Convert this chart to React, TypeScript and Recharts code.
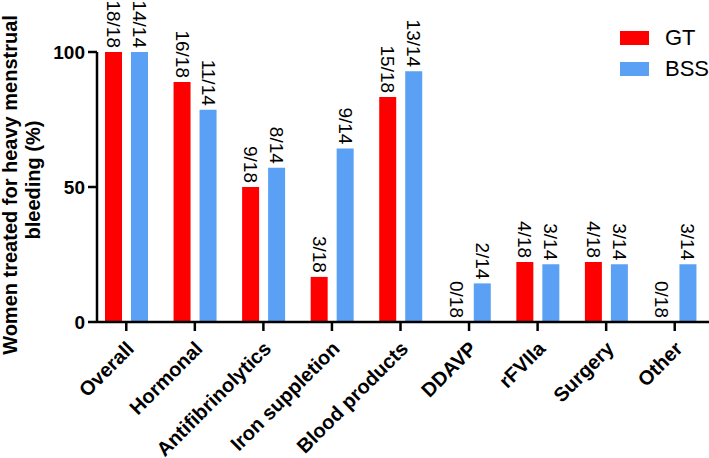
import React from 'react'
import { BarChart, Bar, XAxis, YAxis, Legend, LabelList } from 'recharts'

const categories = ['Overall', 'Hormonal', 'Antifibrinolytics', 'Iron suppletion', 'Blood products', 'DDAVP', 'rFVIIa', 'Surgery', 'Other']
const gtPercent = [100, 88.9, 50, 16.7, 83.3, 0, 22.2, 22.2, 0]
const bssPercent = [100, 78.6, 57.1, 64.3, 92.9, 14.3, 21.4, 21.4, 21.4]
const gtLabels = ['18/18', '16/18', '9/18', '3/18', '15/18', '0/18', '4/18', '4/18', '0/18']
const bssLabels = ['14/14', '11/14', '8/14', '9/14', '13/14', '2/14', '3/14', '3/14', '3/14']
const yTicks = [0, 50, 100]

const RED = '#ff0000'
const BLUE = '#5aa0f5'
const FONT = '"Liberation Sans", Arial, sans-serif'

const chartData = categories.map((name, i) => ({
  name,
  gt: gtPercent[i],
  bss: bssPercent[i],
  gtLabel: gtLabels[i],
  bssLabel: bssLabels[i],
}))

const BarLabel = (props: any) => {
  const { x, y, width, value } = props
  const cx = x + width / 2
  const ty = y - 4
  return (
    <text
      x={cx}
      y={ty}
      transform={`rotate(90, ${cx}, ${ty})`}
      textAnchor="end"
      dominantBaseline="central"
      fontSize={19}
      fontFamily={FONT}
      fill="#000"
    >
      {value}
    </text>
  )
}

const XTick = (props: any) => {
  const { x, y, payload } = props
  return (
    <g transform={`translate(${x + 4}, ${y + 14})`}>
      <text
        x={0}
        y={0}
        transform="rotate(-45)"
        textAnchor="end"
        dominantBaseline="central"
        fontSize={20}
        fontWeight="bold"
        fontFamily={FONT}
        fill="#000"
      >
        {payload.value}
      </text>
    </g>
  )
}

const LegendBox = () => (
  <div style={{ fontFamily: FONT, fontSize: 22, color: '#000' }}>
    {[
      { label: 'GT', color: RED },
      { label: 'BSS', color: BLUE },
    ].map((it) => (
      <div key={it.label} style={{ display: 'flex', alignItems: 'center', height: 31 }}>
        <div style={{ width: 29, height: 14, background: it.color, marginRight: 16 }} />
        <span>{it.label}</span>
      </div>
    ))}
  </div>
)

const YLabel = () => (
  <text
    transform="rotate(-90)"
    textAnchor="middle"
    fontSize={20}
    fontWeight="bold"
    fontFamily={FONT}
    fill="#000"
  >
    <tspan x={-185} y={17}>Women treated for heavy menstrual</tspan>
    <tspan x={-180} y={40}>bleeding (%)</tspan>
  </text>
)

export default function App() {
  return (
    <div style={{ position: 'absolute', left: 0, top: 0 }}>
      <BarChart
        width={709}
        height={458}
        data={chartData}
        margin={{ top: 52, right: 0, left: 0, bottom: 0 }}
        barGap={9}
        barSize={17}
      >
        <XAxis
          dataKey="name"
          interval={0}
          height={136}
          padding={{ left: -5, right: 0 }}
          axisLine={{ stroke: '#000', strokeWidth: 2.5 }}
          tickLine={{ stroke: '#000', strokeWidth: 2.5 }}
          tickSize={9}
          tickMargin={0}
          tick={<XTick />}
        />
        <YAxis
          width={97}
          domain={[0, 100]}
          ticks={yTicks}
          axisLine={{ stroke: '#000', strokeWidth: 2.5 }}
          tickLine={{ stroke: '#000', strokeWidth: 2.5 }}
          tickSize={9}
          tickMargin={3}
          tick={{ fontSize: 19, fontWeight: 'bold', fill: '#000', fontFamily: FONT }}
          label={<YLabel />}
        />
        <Legend
          layout="horizontal"
          verticalAlign="middle"
          align="center"
          content={<LegendBox />}
          wrapperStyle={{ position: 'absolute', left: 620, top: 22, width: 100 }}
        />
        <Bar dataKey="gt" name="GT" fill={RED} minPointSize={0.01} isAnimationActive={false}>
          <LabelList dataKey="gtLabel" content={<BarLabel />} />
        </Bar>
        <Bar dataKey="bss" name="BSS" fill={BLUE} minPointSize={0.01} isAnimationActive={false}>
          <LabelList dataKey="bssLabel" content={<BarLabel />} />
        </Bar>
      </BarChart>
    </div>
  )
}
